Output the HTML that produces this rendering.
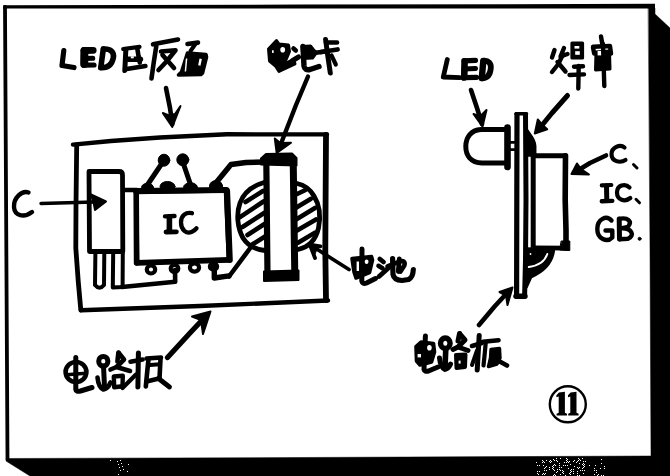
<!DOCTYPE html>
<html>
<head>
<meta charset="utf-8">
<title>Figure 11</title>
<style>
html,body{margin:0;padding:0;background:#fff;}
body{width:670px;height:476px;overflow:hidden;font-family:"Liberation Sans",sans-serif;}
svg{display:block;}
.s{fill:none;stroke:#000;stroke-linecap:round;stroke-linejoin:round;}
.f{fill:#000;stroke:#000;stroke-linejoin:round;stroke-linecap:round;}
</style>
</head>
<body>
<svg width="670" height="476" viewBox="0 0 670 476">
<rect width="670" height="476" fill="#fff" stroke="none"/>

<!-- ===== outer frame + drop shadow ===== -->
<g id="frame">
<polygon class="f" stroke-width="0.5" points="648.500,8 655,8 655,14 670,28 670,476 30,476 6,461 6,458.500 300,457.500 651,456 650,250"/>
<polygon fill="#000" points="3.2,5.2 300,4.6 655,3.8 655,8.4 300,8.4 3.2,8.6"/>
<path class="s" stroke-width="3.8" stroke-linecap="square" d="M5,7 L7.5,459"/>
<path fill="#fff" shape-rendering="crispEdges" d="M556,458h1v1h-1zM560,458h1v1h-1zM566,458h1v1h-1zM578,458h1v1h-1zM582,458h1v1h-1zM553,459h1v1h-1zM567,459h1v1h-1zM579,459h1v1h-1zM601,459h1v1h-1zM542,460h1v1h-1zM546,460h1v1h-1zM550,460h1v1h-1zM554,460h1v1h-1zM556,460h1v1h-1zM566,460h1v1h-1zM574,460h1v1h-1zM578,460h1v1h-1zM580,460h1v1h-1zM543,461h1v1h-1zM549,461h1v1h-1zM551,461h1v1h-1zM557,461h1v1h-1zM567,461h1v1h-1zM569,461h1v1h-1zM573,461h1v1h-1zM577,461h1v1h-1zM583,461h1v1h-1zM585,461h1v1h-1zM536,462h1v1h-1zM542,462h1v1h-1zM544,462h1v1h-1zM550,462h1v1h-1zM564,462h1v1h-1zM566,462h1v1h-1zM568,462h1v1h-1zM576,462h1v1h-1zM559,463h1v1h-1zM579,463h1v1h-1zM583,463h1v1h-1zM601,463h1v1h-1zM554,464h1v1h-1zM570,464h1v1h-1zM582,464h1v1h-1zM584,464h1v1h-1zM537,465h1v1h-1zM539,465h1v1h-1zM543,465h1v1h-1zM553,465h1v1h-1zM555,465h1v1h-1zM559,465h1v1h-1zM563,465h1v1h-1zM565,465h1v1h-1zM567,465h1v1h-1zM583,465h1v1h-1zM589,465h1v1h-1zM595,465h1v1h-1zM546,466h1v1h-1zM552,466h1v1h-1zM574,466h1v1h-1zM584,466h1v1h-1zM604,466h1v1h-1zM545,467h1v1h-1zM549,467h1v1h-1zM553,467h1v1h-1zM559,467h1v1h-1zM561,467h1v1h-1zM577,467h1v1h-1zM579,467h1v1h-1zM583,467h1v1h-1zM544,468h1v1h-1zM552,468h1v1h-1zM568,468h1v1h-1zM578,468h1v1h-1zM582,468h1v1h-1zM594,468h1v1h-1zM600,468h1v1h-1zM604,468h1v1h-1zM549,469h1v1h-1zM553,469h1v1h-1zM557,469h1v1h-1zM559,469h1v1h-1zM571,469h1v1h-1zM573,469h1v1h-1zM544,470h1v1h-1zM546,470h1v1h-1zM554,470h1v1h-1zM560,470h1v1h-1zM562,470h1v1h-1zM570,470h1v1h-1zM580,470h1v1h-1zM582,470h1v1h-1zM584,470h1v1h-1zM594,470h1v1h-1zM596,470h1v1h-1zM537,471h1v1h-1zM539,471h1v1h-1zM557,471h1v1h-1zM563,471h1v1h-1zM571,471h1v1h-1zM573,471h1v1h-1zM577,471h1v1h-1zM556,472h1v1h-1zM562,472h1v1h-1zM570,472h1v1h-1zM596,472h1v1h-1zM537,473h1v1h-1zM543,473h1v1h-1zM545,473h1v1h-1zM563,473h1v1h-1zM569,473h1v1h-1zM573,473h1v1h-1zM577,473h1v1h-1zM583,473h1v1h-1zM538,474h1v1h-1zM542,474h1v1h-1zM544,474h1v1h-1zM554,474h1v1h-1zM560,474h1v1h-1zM570,474h1v1h-1zM594,474h1v1h-1zM598,474h1v1h-1zM553,475h1v1h-1zM555,475h1v1h-1zM565,475h1v1h-1zM577,475h1v1h-1zM579,475h1v1h-1zM597,475h1v1h-1zM601,475h1v1h-1zM603,475h1v1h-1zM110,460h1v1h-1zM117,461h1v1h-1zM120,460h1v1h-1zM118,464h1v1h-1zM121,463h1v1h-1zM128,464h1v1h-1zM119,467h1v1h-1zM122,466h1v1h-1zM120,470h1v1h-1zM123,469h1v1h-1zM127,471h1v1h-1zM118,474h1v1h-1z"/>
</g>

<!-- ===== left figure: PCB top view ===== -->
<g id="pcb" class="s" stroke-width="4.400">
<path d="M73,144.600 L111,141 L160,137.500 L227,134.300 L327,134.400"/>
<path stroke-width="5.800" d="M326,135 L325.600,200 L325.300,250 L326,300"/>
<path d="M328,300.500 L200,306 L81,310.200"/>
<path stroke-width="4.800" d="M80.800,310 L78.300,282 L75.800,248 L76,205 L76.700,145"/>
</g>

<!-- capacitor -->
<g id="cap" class="s" stroke-width="4.800">
<path d="M89,171.500 L119,171.500 Q122.500,171.500 122.500,175 L122.800,251.500 L89.500,251.500 Z"/>
<path stroke-width="4" d="M95.400,252 L95,285 Q99.500,290.500 104,285 L104.300,252"/>
<path stroke-width="4" d="M113.200,252 L112.800,287.500 L122.600,287 L122.800,252"/>
<path stroke-width="4.600" d="M122,287 L150,284.300 L175.200,281.800 L175,270"/>
<path stroke-width="4.400" d="M123,190 L137,190"/>
</g>

<!-- IC -->
<g id="ic" class="s" stroke-width="4.600">
<path d="M136.300,192 L226,190.500 L229,260.500 L137,263.500 Z"/>
<path stroke-width="6" d="M136,191 L226.500,190"/>
<path stroke-width="5.600" d="M136.200,192 L136.600,263"/>
<path stroke-width="6.200" d="M227,191 L229.700,260"/>
<path stroke-width="5" d="M137,262.500 L229,259.500"/>
</g>
<g id="pins" class="f" stroke-width="1">
<ellipse cx="147.500" cy="187.500" rx="6" ry="4.200"/>
<ellipse cx="167.500" cy="186.500" rx="7.500" ry="5"/>
<ellipse cx="190.500" cy="187.500" rx="7" ry="4.800"/>
<ellipse cx="216" cy="186" rx="6.500" ry="5.400"/>
</g>
<g id="pinsb" class="s" stroke-width="4.200">
<ellipse cx="151" cy="269.500" rx="4.200" ry="4"/>
<ellipse cx="174.500" cy="268.500" rx="3.800" ry="3.600"/>
<ellipse cx="194.500" cy="267.500" rx="4.600" ry="4.200"/>
<ellipse cx="213.500" cy="266.500" rx="3.600" ry="3.200"/>
<path stroke-width="5.400" d="M214.300,262 L214.300,278 L229,275.800"/>
</g>

<!-- LED pads + leads -->
<g id="ledpads">
<ellipse class="f" cx="164" cy="160.200" rx="5.800" ry="6"/>
<ellipse class="f" cx="182.800" cy="159.800" rx="6" ry="6"/>
<path class="s" stroke-width="5" d="M161.500,164 L146,187"/>
<path class="s" stroke-width="5" d="M183.500,164 L191,186"/>
</g>

<!-- battery (hatched disc) -->
<g id="batt" class="s" stroke-width="4.800">
<path d="M264,182.500 C252,186 243.500,193 240,203 C236,214 237.500,228 243,238 C248,246 255,249.500 265,250.500"/>
<path d="M297,183.500 C304,185 310,189 314,196 C319,204 321,216 318.500,228 C316,239 309,247 298,249.500"/>
<g stroke-width="4.600">
<path d="M245.500,202 L263,191"/>
<path d="M240,217.200 L263.500,201.500"/>
<path d="M242.500,227 L264.500,212.800"/>
<path d="M247.500,235 L264.500,224"/>
<path d="M253,244 L265,236.500"/>
<path d="M296,194.500 L305.500,190"/>
<path d="M296,207.800 L311,198.800"/>
<path d="M296.500,219.300 L315,208"/>
<path d="M297,230.600 L316,219.500"/>
<path d="M298,242.800 L315,232.600"/>
</g>
</g>

<!-- battery clip -->
<g id="clip">
<path class="s" stroke-width="6.200" d="M266.300,160 L267.500,276"/>
<path class="s" stroke-width="7" d="M293.200,160 L294.800,276"/>
<path class="f" stroke-width="2" d="M261,158.500 L266,154 L292,153.500 L296.500,158 L296.500,165.500 L261,164.500 Z"/>
<path class="f" stroke-width="2" d="M264,271.500 L298.500,270.500 L298.500,280 L264,281 Z"/>
<path class="s" stroke-width="5.400" d="M215,184 L231,164.500 L246,162.500 L265,162"/>
<path class="s" stroke-width="4.600" d="M249.500,249 L229,276.500"/>
</g>

<!-- ===== right figure: side view ===== -->
<g id="side">
<!-- board -->
<path class="s" stroke-width="5.200" d="M517,114.500 L516.800,200 L516.600,296"/>
<path class="s" stroke-width="5" d="M525.500,114.500 L526,200 L525.500,260 L524.600,296"/>
<path class="s" stroke-width="3.600" d="M516,113.800 L526.500,113.800"/>
<path class="s" stroke-width="5.400" d="M516,296.200 L525,296.200"/>
<!-- LED -->
<path class="s" stroke-width="5" d="M506,129.500 L481,129.500 C470.500,130 465.800,138 465.800,146.500 C465.800,155 470.500,162.500 482,163 L507,163"/>
<path class="s" stroke-width="6.600" d="M507.500,127.500 L507.500,167"/>
<path class="s" stroke-width="2.800" d="M510,142.300 L516,142.300 M510,149.600 L516,149.600"/>
<!-- solder top -->
<path class="f" stroke-width="1.500" d="M527,129 C530,134 535.700,139 535.700,146 L535.700,156 L527,156 Z"/>
<!-- component body -->
<path class="s" stroke-width="5" d="M533.200,150 L533.200,247"/>

<path class="s" stroke-width="5" d="M533,155.800 L565.500,155.800"/>
<path class="s" stroke-width="5.600" d="M565.500,155.800 L565.200,200 L566,230 L566,248"/>
<path class="s" stroke-width="4.800" d="M566,248.200 L533,247.800"/>
<path class="f" stroke-width="1" d="M561.500,241 L569.800,241 L569.800,250.500 L560,250 Z"/>
<!-- solder bottom + bent lead -->
<path class="f" stroke-width="1.500" d="M527,248 L554.500,249 C553.500,262 545,271.500 531.500,277.500 L527,287.500 Z"/>
<path class="s" style="stroke:#fff" stroke-width="2" d="M547.300,254 C545,261 538,265.800 528.800,267"/>
<circle cx="530.500" cy="254" r="0.900" fill="#fff"/>
</g>

<!-- ===== arrows ===== -->
<g id="arrows" class="s" stroke-width="4.600">
<!-- LED reverse-side arrow -->
<path stroke-width="4.600" d="M166,88 L170,108 L172.300,124"/>
<path class="f" stroke-width="2" d="M172.300,127 L162.800,113 L169,115.500 L175,114 L180.500,106 Z"/>
<!-- battery clip arrow -->
<path stroke-width="4.400" d="M308,76.500 L296,105 L282,141"/>
<path class="f" stroke-width="2" d="M276.700,153 L274.800,138.500 L280.500,143 L291,142.800 Z"/>
<!-- C arrow -->
<path stroke-width="3.400" d="M41,203.500 L94,202"/>
<path class="f" stroke-width="2" d="M106,201.500 L91,194.500 L93.500,202 L95,210 Z"/>
<!-- battery arrow -->
<path stroke-width="3.800" d="M349,269.500 L330,257.500 L313,246.500"/>
<path stroke-width="3.800" d="M320.500,246.300 L309.800,244.600 L315,258"/>
<path class="f" stroke-width="1" d="M310.500,245.500 L318,247 L315,254 Z"/>
<!-- left board arrow -->
<path stroke-width="5.200" d="M167.500,357.500 L190,333 L206,316"/>
<path class="f" stroke-width="2" d="M210.500,311.500 L192,316.500 L201,320 L203,334 Z"/>
<!-- LED arrow (right fig) -->
<path d="M471,90 L477,108 L482,124"/>
<path class="f" stroke-width="2" d="M482.500,126.500 L473.500,114 L480,116.500 L486.500,110 Z"/>
<!-- solder arrow -->
<path stroke-width="5" d="M567.500,95.500 L552,113 L541,126.500"/>
<path class="f" stroke-width="2" d="M534.800,133.500 L537.800,119.500 L541.500,124 L547.200,129.300 Z"/>
<!-- component arrow -->
<path d="M606,155.500 L590,163 L577,171"/>
<path class="f" stroke-width="2" d="M571.500,174 L577,163.500 L581,169 L589,174.500 Z"/>
<!-- right board arrow -->
<path d="M479,325 L495,306 L508,292"/>
<path class="f" stroke-width="2" d="M512.500,287.500 L499.500,292 L506,295.500 L507.500,305 Z"/>
</g>

<!-- ===== labels (hand lettering drawn as strokes) ===== -->
<g id="t-led-back" class="s" stroke-width="5">
<!-- L -->
<path stroke-width="5.200" d="M63.800,50.500 L62,65.500 L74,67.500"/>
<!-- E -->
<path stroke-width="8" d="M84.400,51 L84.200,64"/>
<path stroke-width="6.800" d="M84,50.500 L93.200,50.300"/>
<path stroke-width="5" d="M84,58.400 L92.800,58.200"/>
<path stroke-width="5.200" d="M84,65.200 L94,65"/>
<!-- D -->
<path stroke-width="5.600" d="M103.300,49 L100.800,67.500"/>
<path stroke-width="5.600" d="M103.500,49 C110.500,48.500 114.500,52 113.300,58 C112,64 108,68 101,67.600"/>
<!-- zai -->
<g stroke-width="4.400">
<path stroke-width="4.200" d="M123.200,49 L139.500,46.800"/>
<path stroke-width="5" d="M125.800,50.500 L124.800,70.500"/>
<path stroke-width="4.600" d="M137.300,48.500 L138.500,56 L139.800,62.500"/>
<path stroke-width="5.400" d="M127,59.300 L140.500,59.300"/>
<path stroke-width="4.400" d="M126.600,69 L145.500,66"/>
<rect x="130.800" y="56.300" width="3" height="2" fill="#fff" stroke="none"/>
</g>
<!-- fan -->
<g stroke-width="4.600">
<path d="M153,44.300 L178,39.500"/>
<path d="M156.300,46 L153.800,62 L151.500,78.500"/>
<path d="M161,51.500 L175.500,50.300 L166.500,61.500 L158.500,70"/>
<path d="M162.500,55 L174,68"/>
</g>
<!-- mian -->
<g stroke-width="4.600">
<path d="M187.500,44 L198,42.600"/>
<path stroke-width="4" d="M195.400,44 L190.500,51"/>
<path class="f" stroke-width="3.600" d="M187.500,53 L206,54.500 L206.500,57 L202.500,73 L201,74.500 L178.500,75 L181.500,72 Z"/>
<path stroke="#fff" stroke-width="2.400" stroke-linecap="butt" d="M200.700,58.700 L199.300,65.500"/>
<path stroke="#fff" stroke-width="1.500" stroke-linecap="butt" d="M186.600,58.500 L185.400,71.500"/>
</g>
</g>

<g id="t-batt-clip" class="s" stroke-width="5.300">
<!-- dian (blob) -->
<path class="f" stroke-width="3" d="M268.500,49 L276.500,40.500 L279,44 L288.500,45 L289.500,51.500 L284.500,63.500 L294,60.500 L295,64 L279,71.500 L275.500,66 L269.500,61 Z"/>
<ellipse cx="282.700" cy="49.800" rx="2.400" ry="2.800" fill="#fff" stroke="none"/>
<rect x="272" y="50.300" width="1.700" height="2.600" fill="#fff" stroke="none"/>
<!-- chi -->
<path stroke-width="4.600" d="M293.500,48.500 L295.800,50.500"/>
<path stroke-width="5" d="M286,65 L292,61 L298.500,57"/>
<path stroke-width="5.400" d="M303,46.500 L304,66 Q304.500,70.500 310,69.500 L319,66.500"/>
<path class="f" stroke-width="3" d="M302,46.500 L310.500,46 L314,50.500 L316.500,52.500 L312.500,58 L303,58.500 Z"/>
<path stroke-width="4.600" d="M314,53 L325,51.500"/>
<!-- ka -->
<path stroke-width="5" d="M325.600,39.500 L327.800,56 L330.300,73"/>
<path stroke-width="4.600" d="M326,42.500 L337,42.500"/>
<path stroke-width="4.800" d="M321,52 L337.500,49.500"/>
<path stroke-width="4.200" d="M331.500,55.500 L335.800,64.500"/>
</g>

<g id="t-ic" class="s" stroke-width="4.400">
<path d="M165,216.400 L174.500,216"/>
<path stroke-width="5.600" d="M169.400,217 L169.400,231"/>
<path stroke-width="4.800" d="M166,232 L176.400,231.800"/>
<path stroke-width="4.300" d="M192,213.200 C186,211.800 181,215.500 181,222.500 C181,230 186.500,234 191.500,232 C194,231 195.500,229.800 196.500,228.300"/>
</g>

<g id="t-c" class="s" stroke-width="4.400">
<path d="M28.500,192.500 C22,190 13.500,198 14,207 C14.500,216 24,218 32,212"/>
</g>

<g id="t-dianchi" class="s" stroke-width="5.200">
<path class="f" stroke-width="3.600" d="M352,258.500 L371.500,256.500 L372.500,260 L369.500,272.500 L356,278 L354,272 Z"/>
<path stroke-width="5" d="M362,249 L361.800,281 Q362.500,284.500 366.500,283 L375.500,278.500"/>
<rect x="356.600" y="261.500" width="2.400" height="9.500" fill="#fff" stroke="none"/>
<ellipse cx="366.600" cy="261.800" rx="1.900" ry="2.300" fill="#fff" stroke="none"/>
<path stroke-width="4.800" d="M379.800,259 L383.500,262"/>
<path stroke-width="4.600" d="M378.500,265.800 L382.500,268.300"/>
<path stroke-width="4.800" d="M379,276.500 L389,267.500"/>
<path d="M392.600,258.500 L393,274.500 Q394,280 402,280.500 L408.500,279.500 Q413,277.500 413.300,269.500"/>
<path stroke-width="4.800" d="M399.300,259 L398.300,271.500"/>
<path stroke-width="4.600" d="M387.500,266.300 L400,261.300 Q406,260.300 404.300,265.500 L400.500,271.500"/>
</g>

<g id="t-board-l" class="s" stroke-width="4.600">
<!-- dian -->
<ellipse cx="76" cy="372" rx="10.400" ry="10"/>
<path stroke-width="5" d="M75.800,357.500 L75.800,389.500 Q76,392 80.500,391 L92,387.500"/>
<path stroke-width="3.600" d="M66.500,374.800 L86,373.200"/>
<!-- lu -->
<ellipse cx="103.300" cy="361.300" rx="4.600" ry="4.900" stroke-width="5"/>
<path stroke-width="5" d="M103.500,366 L104.500,386.500"/>
<path d="M97.500,377.500 Q98.500,387.500 103.500,389.500 Q108,388.500 110.500,382.500"/>
<path d="M118.400,352.500 L117.400,361.500"/>
<path d="M118.800,353 L124,359.500 L116.500,367 L110.500,369.500"/>
<path d="M116.500,367 L130,371"/>
<path stroke-width="4.400" d="M113.800,376.500 L122.800,375.800 L122.500,386.300 L114.200,387.300 Z"/>
<path stroke-width="4.200" d="M136,374.500 L122.500,388"/>
<!-- ban -->
<path d="M130.500,361.700 L142.600,359.600"/>
<path stroke-width="5" d="M138.400,353 L137.900,387"/>
<path d="M146.500,358.500 L161,357.500"/>
<path d="M148.400,360 L147,374 L145.800,386.500"/>
<path d="M160.500,359 L159.500,378.500"/>
<path stroke-width="4" d="M150,365 L160,364.300"/>
<path d="M146.500,381.500 L159,378.500"/>
<path stroke-width="4.800" d="M158.500,378.500 L169.500,387"/>
</g>

<g id="t-led" class="s" stroke-width="4.800">
<path d="M447.300,59.500 L443.300,77 L460,77.600"/>
<path stroke-width="6.600" d="M464.600,61.300 L464.200,77.500"/>
<path stroke-width="5.200" d="M464,60.800 L475.500,60.300"/>
<path stroke-width="5" d="M464,69 L475.500,68.400"/>
<path stroke-width="5.200" d="M463.500,77.600 L476.500,77.400"/>
<path stroke-width="6.400" d="M483.300,61 L481.800,78"/>
<path stroke-width="5.800" d="M483.500,60.800 C488.500,60.300 491.300,63.300 490.800,68.300 C490.300,74 488,78.300 482,78.300"/>
</g>

<g id="t-hanlao" class="s" stroke-width="4.400">
<!-- han: fire radical -->
<path d="M554.500,50 L552,57.500"/>
<path d="M564,48 L560.500,56.500 L567.500,54"/>
<path d="M562.500,55.500 L558,64.500 L552,72"/>
<path d="M557.500,62 L565.500,71.500"/>
<!-- han: sun + gan -->
<path class="f" stroke-width="3.200" d="M572,43 L582.500,43 L582.500,58 L572,58 Z"/>
<rect x="574.500" y="46" width="4.800" height="2.600" fill="#fff" stroke="none"/>
<rect x="575.200" y="51.200" width="4.600" height="3.600" fill="#fff" stroke="none"/>
<path d="M574,66.700 L583,66.300"/>
<path d="M569.500,75 L584,74.400"/>
<path d="M578.700,66 L578.300,88.500"/>
<!-- lao -->
<path d="M601,36.500 L602.300,44"/>
<path d="M593,47.500 L594.200,53.500"/>
<path d="M593,46.800 L610,46 L611,53.500"/>
<path class="f" stroke-width="3" d="M596,52 L609.500,51 L610,69 L595.500,70 Z"/>
<rect x="597.600" y="51" width="5.200" height="4.400" fill="#fff" stroke="none"/>
<path d="M603,44 L604.300,86"/>
</g>

<g id="t-cicgb" class="s" stroke-width="4.200">
<path d="M624.500,147.500 C620,143.500 611.500,147.500 611.500,154 C611.500,161.500 620,163.500 625.500,160"/>
<path stroke-width="3" d="M633.500,164.500 L637,168"/>
<path d="M601.800,185.400 L611.300,185"/>
<path stroke-width="5" d="M606.500,186 L606.800,200.500"/>
<path stroke-width="4.400" d="M601.800,201.300 L612.300,200.900"/>
<path d="M629.500,187.500 C625,182.800 617,185.300 617,192.500 C617,200.300 625,202.300 630.300,198"/>
<path stroke-width="3" d="M636,199.300 L639.500,202.800"/>
<path stroke-width="4.400" d="M611.500,220.500 C606.500,214.800 597.300,219 597.300,229 C597.300,239 607,243 612.300,237.500 L612.300,230.500 L605.500,230.500"/>
<path stroke-width="5" d="M619.200,219 L619.500,239"/>
<path stroke-width="4.400" d="M619.200,218.800 C628,217 632.500,221.500 628,226.800 L621,228.300 C631.500,227.500 635.500,235.500 628,238.800 L619.500,239.300"/>
<circle class="f" stroke-width="1" cx="639.600" cy="238.800" r="1.500"/>
</g>

<g id="t-board-r" class="s" stroke-width="5">
<!-- dian -->
<path class="f" stroke-width="3.600" d="M416,346.500 L421,342 L433.500,343.500 L434.500,352 L431.500,362 L420,365 L416.500,361 Z"/>
<path d="M425.400,336 L424,369.500 Q424.500,372 428.500,371 L438,367"/>
<ellipse cx="429.400" cy="347.800" rx="2.300" ry="2.800" fill="#fff" stroke="none"/>
<rect x="417.600" y="354" width="3.400" height="3.400" fill="#fff" stroke="none"/>
<!-- lu -->
<ellipse cx="445.300" cy="343.200" rx="4.800" ry="5.200" stroke-width="5.400"/>
<path stroke-width="5.600" d="M445.800,349 L445,367"/>
<path d="M439.500,358 Q440.500,367.500 445,369.500 Q449,368 450.500,364"/>
<path d="M459.500,333.500 L458,341"/>
<path d="M459.800,334 L465,340 L458,347 L453,349.500"/>
<path d="M458,347 L468,350.500"/>
<path class="f" stroke-width="4" d="M456,355 L465.500,354.500 L465,367 L456.500,368 Z"/>
<rect x="458.600" y="360.600" width="2" height="3" fill="#fff" stroke="none"/>
<!-- ban -->
<path stroke-width="4.600" d="M472,346 L482,343"/>
<path stroke-width="5" d="M479.200,335.500 L477.200,370"/>
<path stroke-width="4" d="M477,350.500 L472,365"/>
<path stroke-width="4.600" d="M483,341.800 L498.500,340.300"/>
<path stroke-width="4.200" d="M485.700,343 L484.500,356 L483.500,365.500"/>
<path class="f" stroke-width="3.400" d="M491,349.500 L499.500,348.500 L500,358 L497,364 L488.500,366.500 L490.500,358 Z"/>
<path stroke-width="4.600" d="M497,360 L507,365.500"/>
</g>

<!-- circled 11 -->
<g id="n11">
<circle cx="567.800" cy="404.300" r="18" fill="none" stroke="#000" stroke-width="2.400"/>
<path fill="#000" d="M559,392.600 L564.900,391.800 L564.900,412.800 L567,413.800 L567,415.400 L556.600,415.400 L556.600,413.800 L558.700,412.800 L558.700,396.400 L556.400,397.200 L556.400,395.300 Z"/>
<path fill="#000" d="M570.600,392.600 L576.500,391.800 L576.500,412.800 L578.600,413.800 L578.600,415.400 L568.200,415.400 L568.200,413.800 L570.300,412.800 L570.300,396.400 L568,397.200 L568,395.300 Z"/>
</g>

</svg>
</body>
</html>
